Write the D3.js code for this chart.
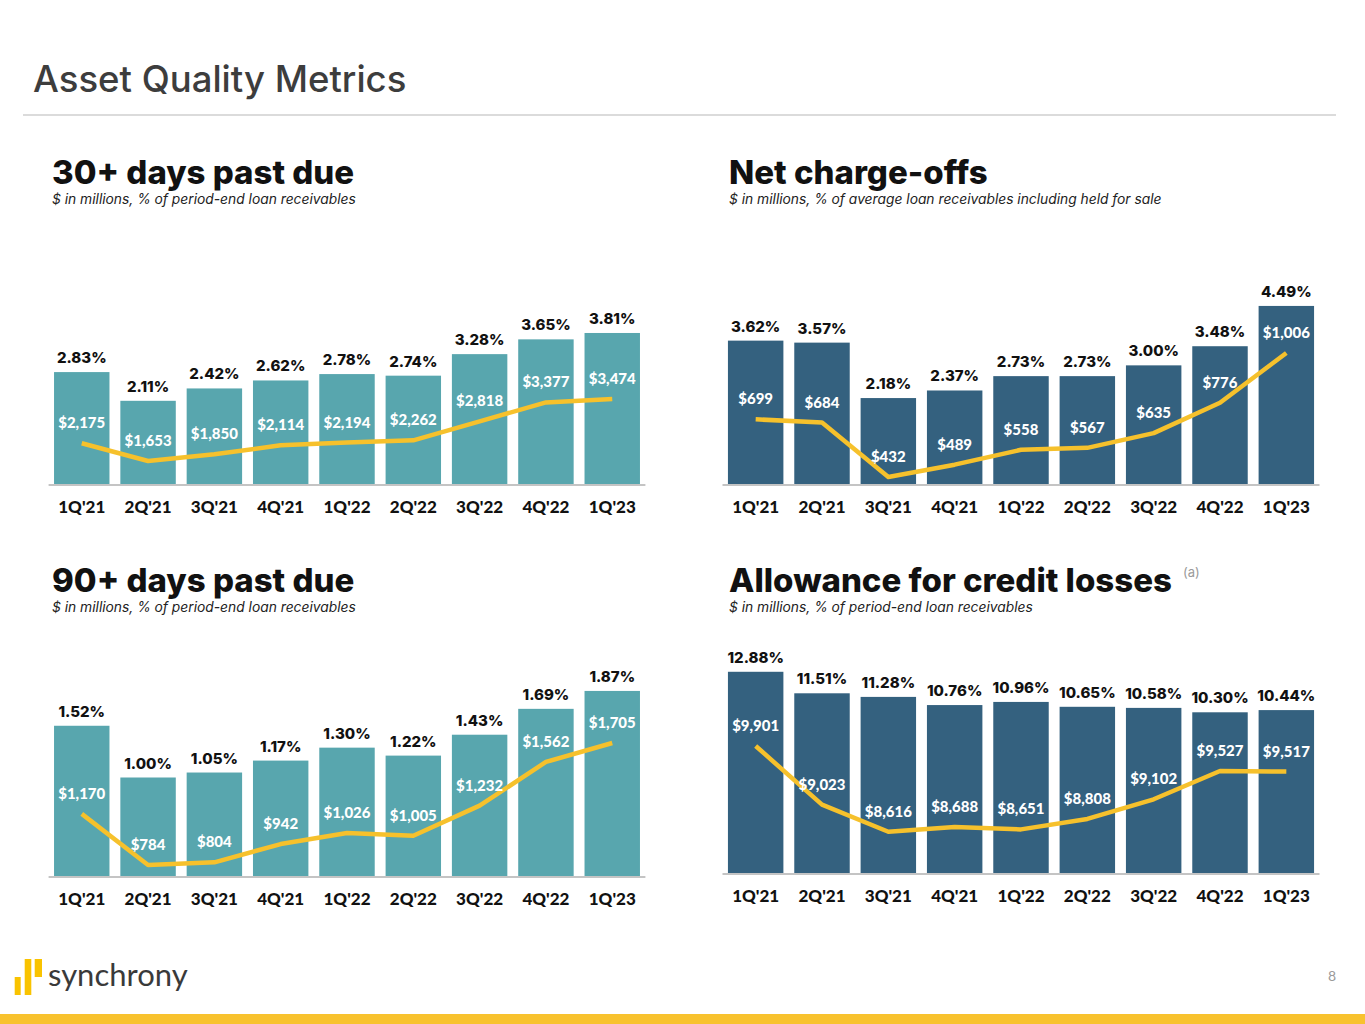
<!DOCTYPE html>
<html>
<head>
<meta charset="utf-8">
<script src="https://cdn.jsdelivr.net/npm/d3@7"></script>
<style>
  html, body { margin: 0; padding: 0; background: #fff; }
  svg { display: block; font-family: "Lato", "Noto Sans", sans-serif; }
</style>
</head>
<body>
<svg id="chart" width="1365" height="1024"></svg>
<script>
// ---------- data ----------
const quarters = ["1Q'21", "2Q'21", "3Q'21", "4Q'21", "1Q'22", "2Q'22", "3Q'22", "4Q'22", "1Q'23"];

const dpd30Pct = [2.83, 2.11, 2.42, 2.62, 2.78, 2.74, 3.28, 3.65, 3.81];
const dpd30Usd = [2175, 1653, 1850, 2114, 2194, 2262, 2818, 3377, 3474];

const ncoPct = [3.62, 3.57, 2.18, 2.37, 2.73, 2.73, 3.00, 3.48, 4.49];
const ncoUsd = [699, 684, 432, 489, 558, 567, 635, 776, 1006];

const dpd90Pct = [1.52, 1.00, 1.05, 1.17, 1.30, 1.22, 1.43, 1.69, 1.87];
const dpd90Usd = [1170, 784, 804, 942, 1026, 1005, 1232, 1562, 1705];

const aclPct = [12.88, 11.51, 11.28, 10.76, 10.96, 10.65, 10.58, 10.30, 10.44];
const aclUsd = [9901, 9023, 8616, 8688, 8651, 8808, 9102, 9527, 9517];

const panelTitles = ["30+ days past due", "Net charge-offs", "90+ days past due", "Allowance for credit losses"];
const panelSubtitles = [
  "$ in millions, % of period-end loan receivables",
  "$ in millions, % of average loan receivables including held for sale",
  "$ in millions, % of period-end loan receivables",
  "$ in millions, % of period-end loan receivables"
];

// ---------- layout ----------
const TEAL = "#58a6ae", BLUE = "#34617f", YELLOW = "#f6c12c";
const WIDE = "Inter, 'Open Sans', sans-serif";
const panels = [
  { pct: dpd30Pct, usd: dpd30Usd, title: panelTitles[0], sub: panelSubtitles[0], color: TEAL,
    tx: 52, ty: 184, x: [48.6, 645.4], base: 485, barDom: [0, 4], barTop: 325.4, lineDom: [0, 4000], lineRange: [517.2, 381.2] },
  { pct: ncoPct, usd: ncoUsd, title: panelTitles[1], sub: panelSubtitles[1], color: BLUE,
    tx: 729, ty: 184, x: [722.5, 1319.5], base: 485, barDom: [0, 5], barTop: 285.6, lineDom: [0, 1000], lineRange: [570.3, 354.3] },
  { pct: dpd90Pct, usd: dpd90Usd, title: panelTitles[2], sub: panelSubtitles[2], color: TEAL,
    tx: 52, ty: 592, x: [48.6, 645.4], base: 877, barDom: [0, 2], barTop: 678, lineDom: [0, 2000], lineRange: [968.9, 703.9] },
  { pct: aclPct, usd: aclUsd, title: panelTitles[3], sub: panelSubtitles[3], color: BLUE, note: "(a)",
    tx: 729, ty: 592, x: [722.5, 1319.5], base: 874, barDom: [0, 13], barTop: 669.9, lineDom: [8000, 10000], lineRange: [872.8, 739.4] }
];

const svg = d3.select("#chart");

// header
svg.append("text").attr("x", 33).attr("y", 92)
  .attr("font-family", WIDE).attr("font-size", 36.5).attr("font-weight", 500).attr("fill", "#3d3d3d")
  .text("Asset Quality Metrics");
svg.append("line").attr("x1", 23).attr("x2", 1336).attr("y1", 115).attr("y2", 115)
  .attr("stroke", "#cfcfcf").attr("stroke-width", 1.5);

const fmtUsd = v => "$" + d3.format(",")(v);
const fmtPct = v => d3.format(".2f")(v) + "%";

panels.forEach(p => {
  const g = svg.append("g");
  const data = quarters.map((q, i) => ({ q, pct: p.pct[i], usd: p.usd[i] }));

  const x = d3.scaleBand().domain(quarters).range(p.x).paddingInner(0.164).paddingOuter(0.082);
  const yBar = d3.scaleLinear().domain(p.barDom).range([p.base, p.barTop]);
  const yLine = d3.scaleLinear().domain(p.lineDom).range(p.lineRange);

  // title
  const t = g.append("text").attr("x", p.tx).attr("y", p.ty)
    .attr("font-family", WIDE).attr("font-size", 33).attr("font-weight", 800).attr("fill", "#111")
    .text(p.title);
  if (p.note) {
    const w = t.node().getComputedTextLength();
    g.append("text").attr("x", p.tx + w + 11).attr("y", p.ty - 15)
      .attr("font-family", WIDE).attr("font-size", 13).attr("fill", "#9a9a9a").text(p.note);
  }
  g.append("text").attr("x", p.tx).attr("y", p.ty + 20)
    .attr("font-family", WIDE).attr("font-size", 13.8).attr("font-style", "italic").attr("fill", "#222")
    .text(p.sub);

  // bars
  g.selectAll("rect.bar").data(data).join("rect").attr("class", "bar")
    .attr("x", d => x(d.q)).attr("width", x.bandwidth())
    .attr("y", d => yBar(d.pct)).attr("height", d => p.base - yBar(d.pct))
    .attr("fill", p.color);

  // axis
  const axis = d3.axisBottom(x).tickSize(0).tickPadding(0);
  const ax = g.append("g").attr("transform", `translate(0,${p.base})`).call(axis);
  ax.select(".domain").attr("stroke", "#c4c4c4").attr("stroke-width", 2)
    .attr("d", `M${p.x[0]},0H${p.x[1]}`);
  ax.selectAll(".tick text").attr("dy", null).attr("y", 28)
    .attr("font-family", "Lato, sans-serif").attr("font-size", 17).attr("font-weight", 900).attr("fill", "#111");

  // percent labels
  g.selectAll("text.pct").data(data).join("text").attr("class", "pct")
    .attr("x", d => x(d.q) + x.bandwidth() / 2).attr("y", d => yBar(d.pct) - 9)
    .attr("text-anchor", "middle").attr("font-family", WIDE).attr("font-size", 15).attr("font-weight", 800).attr("fill", "#111")
    .text(d => fmtPct(d.pct));

  // line
  const line = d3.line().x(d => x(d.q) + x.bandwidth() / 2).y(d => yLine(d.usd));
  g.append("path").datum(data).attr("d", line)
    .attr("fill", "none").attr("stroke", YELLOW).attr("stroke-width", 4.5)
    .attr("stroke-linejoin", "round").attr("stroke-linecap", "butt");

  // dollar labels
  g.selectAll("text.usd").data(data).join("text").attr("class", "usd")
    .attr("x", d => x(d.q) + x.bandwidth() / 2).attr("y", d => yLine(d.usd) - 15)
    .attr("text-anchor", "middle").attr("font-size", 15).attr("font-weight", 900).attr("fill", "#fff")
    .text(d => fmtUsd(d.usd));
});

// footer logo
const logoBars = [
  { x: 14.7, y: 977, w: 6, h: 18 },
  { x: 24.7, y: 959, w: 6.6, h: 36 },
  { x: 34.7, y: 959, w: 7.3, h: 18 }
];
svg.selectAll("rect.logo").data(logoBars).join("rect").attr("class", "logo")
  .attr("x", d => d.x).attr("y", d => d.y).attr("width", d => d.w).attr("height", d => d.h)
  .attr("fill", "#f9c300");
svg.append("text").attr("x", 48).attr("y", 986)
  .attr("font-size", 31).attr("font-weight", 400).attr("fill", "#3a3a3a").text("synchrony");
svg.append("text").attr("x", 1336).attr("y", 981).attr("text-anchor", "end")
  .attr("font-size", 14).attr("fill", "#9a9a9a").text("8");
svg.append("rect").attr("x", 0).attr("y", 1014).attr("width", 1365).attr("height", 10).attr("fill", "#f8c22e");
</script>
</body>
</html>
